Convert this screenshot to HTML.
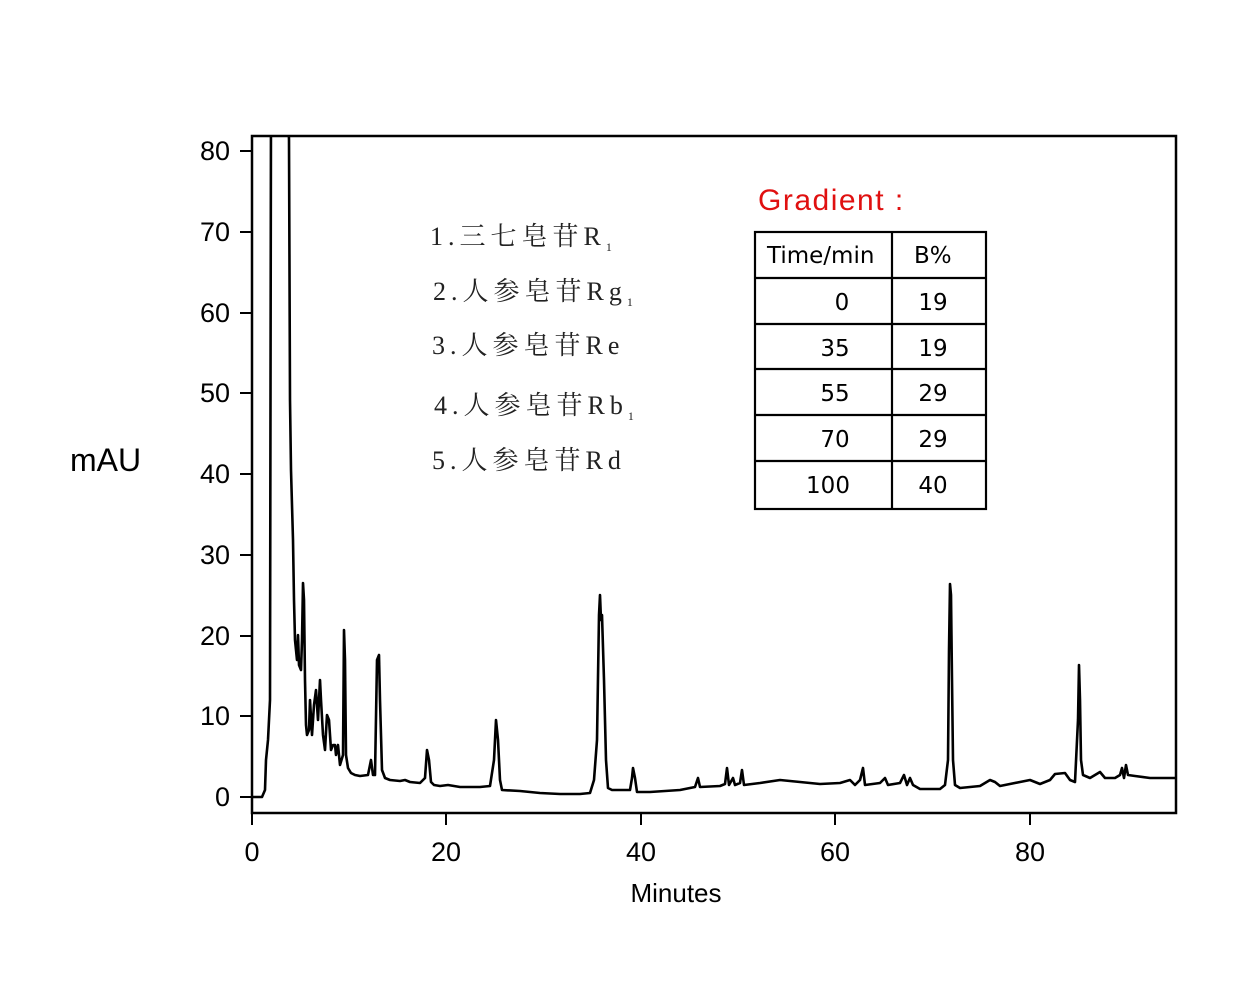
<!DOCTYPE html>
<html><head><meta charset="utf-8"><style>
body{margin:0;background:#fff;}
svg text{font-family:"Liberation Sans","Noto Sans CJK SC",sans-serif;}
.cn{font-family:"Liberation Serif","Noto Serif CJK SC",serif;font-size:26px;fill:#222;letter-spacing:5px}
</style></head><body>
<svg width="1247" height="980" viewBox="0 0 1247 980" xmlns="http://www.w3.org/2000/svg">
<defs><clipPath id="c"><rect x="252" y="137" width="924" height="676"/></clipPath></defs>
<rect x="252" y="136" width="924" height="677" fill="none" stroke="#000" stroke-width="2.5"/>
<g stroke="#000" stroke-width="2">
<line x1="240" y1="797" x2="252" y2="797"/><line x1="240" y1="716" x2="252" y2="716"/><line x1="240" y1="636" x2="252" y2="636"/><line x1="240" y1="555" x2="252" y2="555"/><line x1="240" y1="474" x2="252" y2="474"/><line x1="240" y1="393" x2="252" y2="393"/><line x1="240" y1="313" x2="252" y2="313"/><line x1="240" y1="232" x2="252" y2="232"/><line x1="240" y1="151" x2="252" y2="151"/>
<line x1="252" y1="813" x2="252" y2="825"/><line x1="446" y1="813" x2="446" y2="825"/><line x1="641" y1="813" x2="641" y2="825"/><line x1="835" y1="813" x2="835" y2="825"/><line x1="1030" y1="813" x2="1030" y2="825"/>
</g>
<g font-size="27" text-anchor="end" fill="#000">
<text x="230" y="806">0</text><text x="230" y="725">10</text><text x="230" y="645">20</text><text x="230" y="564">30</text><text x="230" y="483">40</text><text x="230" y="402">50</text><text x="230" y="322">60</text><text x="230" y="241">70</text><text x="230" y="160">80</text>
</g>
<g font-size="27" text-anchor="middle" fill="#000">
<text x="252" y="861">0</text><text x="446" y="861">20</text><text x="641" y="861">40</text><text x="835" y="861">60</text><text x="1030" y="861">80</text>
</g>
<text x="676" y="902" font-size="26" text-anchor="middle">Minutes</text>
<text x="70" y="471" font-size="32">mAU</text>
<polyline clip-path="url(#c)" fill="none" stroke="#000" stroke-width="2.6" stroke-linejoin="round" points="252,797 262,797 265,790 266,760 268,740 270,700 271,100 288,100 289,140 290,400 291,470 293,540 294,600 295,640 297,660 298,635 299,665 301,670 302,640 303,583 304,600 305,680 306,725 307,735 309,730 310,700 312,735 314,705 316,690 318,720 320,680 321,700 323,735 325,750 327,715 329,720 331,750 333,745 335,745 336,755 338,745 340,765 343,755 344,630 345,660 346,755 348,768 351,773 355,775 360,776 368,775 371,760 373,775 375,775 377,660 379,655 380,700 382,770 385,778 390,780 400,781 405,780 410,782 420,783 425,778 427,750 429,760 431,782 434,785 440,786 448,785 460,787 480,787 490,786 494,760 496,720 498,740 500,780 502,790 520,791 540,793 560,794 580,794 590,793 594,780 597,740 599,615 600,595 601,620 602,615 604,680 606,760 608,788 612,790 620,790 630,790 632,778 633,768 635,778 637,792 650,792 680,790 695,787 698,778 700,787 720,786 725,784 727,768 729,785 733,778 735,785 740,783 742,770 744,785 760,783 780,780 800,782 820,784 840,783 850,780 855,785 860,780 863,768 865,785 880,783 885,778 888,785 900,783 904,775 907,785 910,778 913,785 920,789 940,789 945,785 948,760 949,650 950,584 951,595 952,680 953,760 955,785 960,788 980,786 990,780 995,782 1000,786 1020,782 1030,780 1040,784 1050,780 1055,774 1065,773 1070,780 1075,782 1078,720 1079,665 1080,700 1081,760 1083,775 1090,778 1100,772 1105,778 1115,778 1120,775 1122,768 1124,778 1126,765 1128,775 1135,776 1150,778 1176,778"/>
<text x="758" y="210" font-size="30" fill="#e01010" letter-spacing="1.5">Gradient :</text>
<text class="cn" x="430" y="245">1.三七皂苷R<tspan font-size="12" dy="6">1</tspan></text>
<text class="cn" x="433" y="300">2.人参皂苷Rg<tspan font-size="12" dy="6">1</tspan></text>
<text class="cn" x="432" y="354">3.人参皂苷Re</text>
<text class="cn" x="434" y="414">4.人参皂苷Rb<tspan font-size="12" dy="6">1</tspan></text>
<text class="cn" x="432" y="469">5.人参皂苷Rd</text>
<g stroke="#000" stroke-width="2.2" fill="none">
<rect x="755" y="232" width="231" height="277"/>
<line x1="892" y1="232" x2="892" y2="509"/>
<line x1="755" y1="278" x2="986" y2="278"/><line x1="755" y1="324" x2="986" y2="324"/><line x1="755" y1="369" x2="986" y2="369"/><line x1="755" y1="415" x2="986" y2="415"/><line x1="755" y1="461" x2="986" y2="461"/>
</g>
<g font-size="23" fill="#000">
<text x="767" y="263" style="font-family:'DejaVu Sans',sans-serif">Time/min</text>
<text x="914" y="263" style="font-family:'DejaVu Sans',sans-serif">B%</text>
</g>
<g font-size="23" fill="#000" text-anchor="middle">
<text x="842" y="310" style="font-family:'DejaVu Sans',sans-serif">0</text><text x="933" y="310" style="font-family:'DejaVu Sans',sans-serif">19</text>
<text x="835" y="356" style="font-family:'DejaVu Sans',sans-serif">35</text><text x="933" y="356" style="font-family:'DejaVu Sans',sans-serif">19</text>
<text x="835" y="401" style="font-family:'DejaVu Sans',sans-serif">55</text><text x="933" y="401" style="font-family:'DejaVu Sans',sans-serif">29</text>
<text x="835" y="447" style="font-family:'DejaVu Sans',sans-serif">70</text><text x="933" y="447" style="font-family:'DejaVu Sans',sans-serif">29</text>
<text x="828" y="493" style="font-family:'DejaVu Sans',sans-serif">100</text><text x="933" y="493" style="font-family:'DejaVu Sans',sans-serif">40</text>
</g>
</svg>
</body></html>
